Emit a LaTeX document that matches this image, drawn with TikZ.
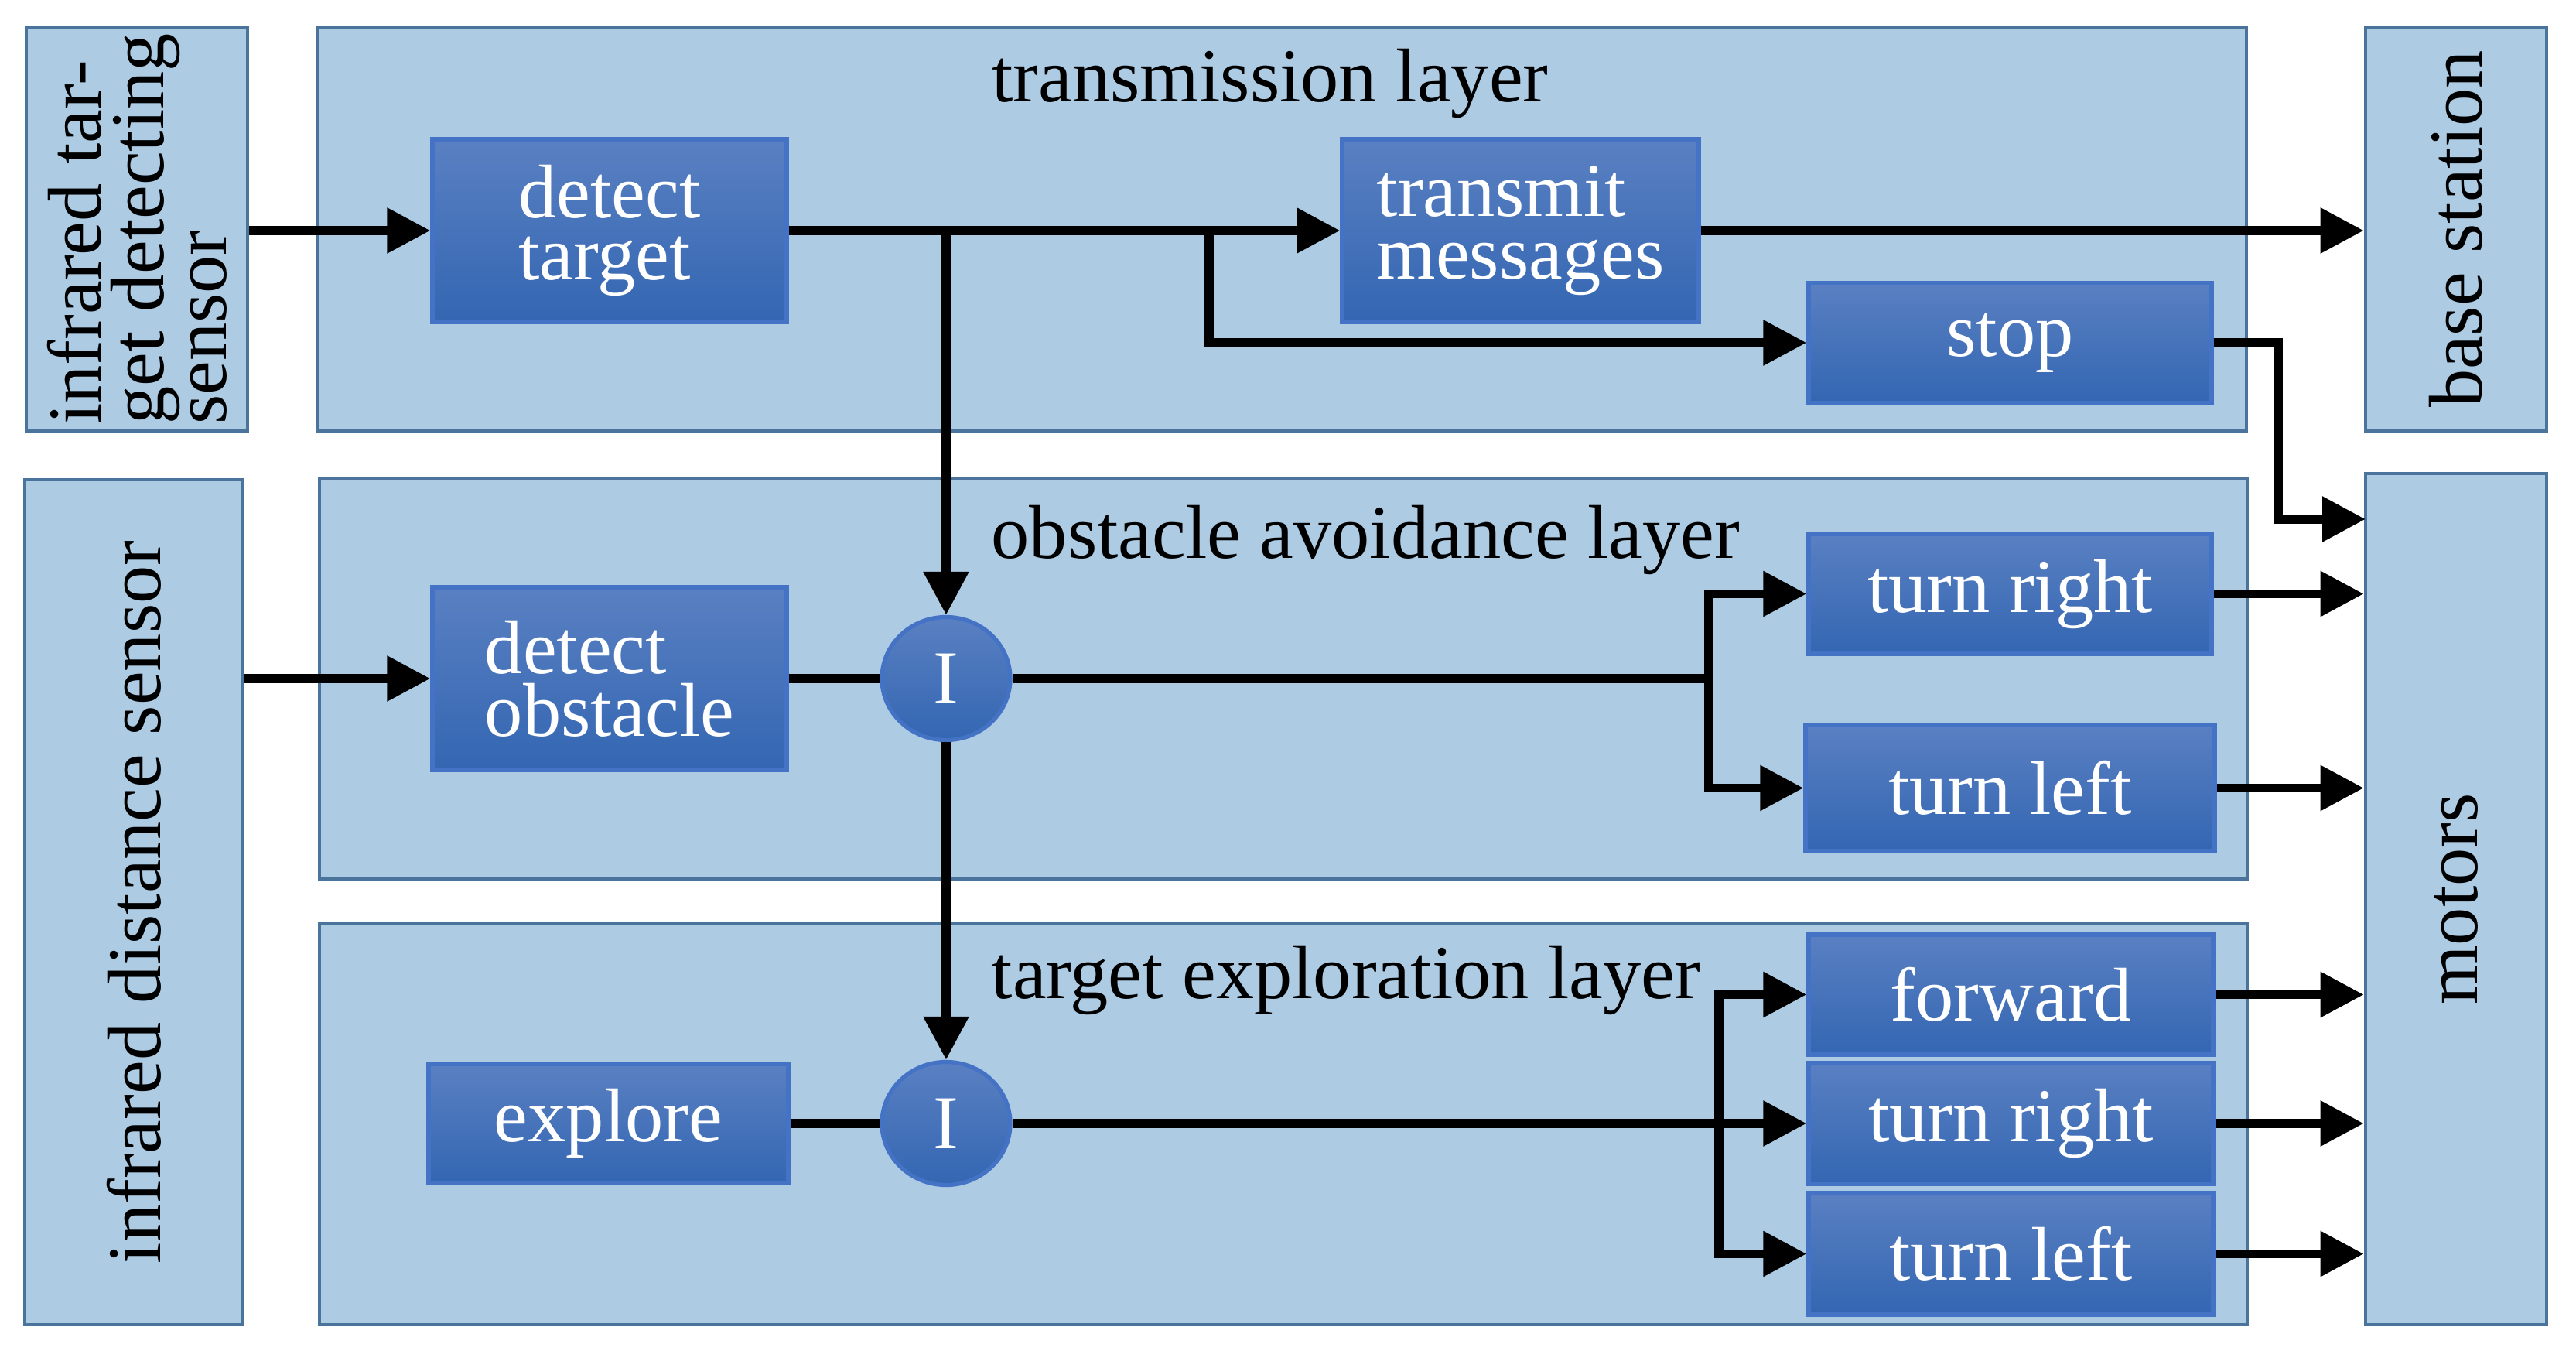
\documentclass[tikz,border=0pt]{standalone}
\usepackage{fontspec}
\setmainfont{Liberation Serif}
\usetikzlibrary{arrows.meta,shapes.geometric}
\definecolor{layerfill}{HTML}{ADCBE3}
\definecolor{layerline}{HTML}{4A749C}
\definecolor{functop}{HTML}{5A80C2}
\definecolor{funcbot}{HTML}{3366B2}
\definecolor{funcline}{HTML}{4472C4}

\begin{document}
\begin{tikzpicture}[
   font=\fontsize{28}{23}\selectfont,
   layer/.style={draw=layerline, fill=layerfill, line width=1.3pt, inner sep=0pt},
   func/.style={draw=funcline, top color=functop, bottom color=funcbot, line width=1.5pt, text=white, align=left, inner sep=0pt},
   merge/.style={ellipse, draw=funcline, top color=functop, bottom color=funcbot, line width=1.5pt, text=white, minimum width=1.66cm, minimum height=1.59cm, inner sep=0pt},
   arrow/.style={-{Triangle[length=0.56cm, width=0.56cm]}, line width=3.4pt},
   line/.style={-, line width=3.4pt}
]
\useasboundingbox (0,0) rectangle (33.30,-17.59);

% Sensors and actuators
\node[layer, rotate=90, align=left, minimum width=5.22cm, minimum height=2.86cm] (tsensor) at (1.77,-2.96) {infrared tar-\\get detecting\\sensor};
\node[layer, rotate=90, minimum width=10.92cm, minimum height=2.82cm] (dsensor) at (1.73,-11.66) {infrared distance sensor};
\node[layer, rotate=90, minimum width=5.22cm, minimum height=2.34cm] (base) at (31.75,-2.96) {base station};
\node[layer, rotate=90, minimum width=11.0cm, minimum height=2.34cm] (motors) at (31.75,-11.62) {motors};

% Layers
\node[layer, minimum width=24.93cm, minimum height=5.22cm] (translayer) at (16.575,-2.96) {};
\node[layer, minimum width=24.92cm, minimum height=5.18cm] (obslayer) at (16.59,-8.77) {};
\node[layer, minimum width=24.92cm, minimum height=5.18cm] (explayer) at (16.59,-14.53) {};
\node[anchor=base, inner sep=0pt] (tlabel) at (16.42,-1.32) {transmission layer};
\node[anchor=base west, inner sep=0pt] (olabel) at (12.81,-7.22) {obstacle avoidance layer};
\node[anchor=base west, inner sep=0pt] (elabel) at (12.81,-12.91) {target exploration layer};

% Transmission layer
\node[func, minimum width=4.58cm, minimum height=2.36cm] (dtarget) at (7.88,-2.98) {detect\\target};
\node[func, minimum width=4.61cm, minimum height=2.36cm] (transmit) at (19.655,-2.98) {transmit\\messages};
\node[func, minimum width=5.21cm, minimum height=1.55cm] (stop) at (25.985,-4.43) {stop};
\coordinate (split1) at (15.63,-2.98);
\coordinate (stopin) at (30.58,-6.71);

% Obstacle avoidance layer
\node[func, minimum width=4.58cm, minimum height=2.36cm] (dobstacle) at (7.88,-8.77) {detect\\obstacle};
\node[merge] (join1) at (12.23,-8.77) {I};
\node[func, minimum width=5.21cm, minimum height=1.55cm] (oright) at (25.985,-7.675) {turn right};
\node[func, minimum width=5.29cm, minimum height=1.63cm] (oleft) at (25.985,-10.185) {turn left};
\coordinate (split2) at (22.09,-8.77);

% Target exploration layer
\node[func, minimum width=4.65cm, minimum height=1.53cm] (explore) at (7.865,-14.52) {explore};
\node[merge] (join2) at (12.23,-14.52) {I};
\node[func, minimum width=5.23cm, minimum height=1.55cm] (forward) at (25.995,-12.855) {forward};
\node[func, minimum width=5.23cm, minimum height=1.57cm] (eright) at (25.995,-14.52) {turn right};
\node[func, minimum width=5.23cm, minimum height=1.57cm] (eleft) at (25.995,-16.205) {turn left};
\coordinate (split3) at (22.22,-14.52);

% Connections
\draw[arrow] (tsensor.south |- dtarget.west) -- (dtarget.west);
\draw[arrow] (dtarget.east) -- (transmit.west);
\draw[arrow] (join1 |- dtarget.east) -- (join1.north);
\draw[arrow] (split1) |- (stop.west);
\draw[arrow] (transmit.east) -- (transmit.east -| base.north);
\draw[arrow] (stop.east) -- ++(0.83,0) |- (stopin);

\draw[arrow] (dsensor.south |- dobstacle.west) -- (dobstacle.west);
\draw[line] (dobstacle.east) -- (join1.west);
\draw[line] (join1.east) -- (split2);
\draw[arrow] (split2) |- (oright.west);
\draw[arrow] (split2) |- (oleft.west);
\draw[arrow] (oright.east) -- (oright.east -| motors.north);
\draw[arrow] (oleft.east) -- (oleft.east -| motors.north);

\draw[arrow] (join1.south) -- (join2.north);
\draw[line] (explore.east) -- (join2.west);
\draw[arrow] (join2.east) -- (eright.west);
\draw[arrow] (split3) |- (forward.west);
\draw[arrow] (split3) |- (eleft.west);
\draw[arrow] (forward.east) -- (forward.east -| motors.north);
\draw[arrow] (eright.east) -- (eright.east -| motors.north);
\draw[arrow] (eleft.east) -- (eleft.east -| motors.north);

\end{tikzpicture}
\end{document}
